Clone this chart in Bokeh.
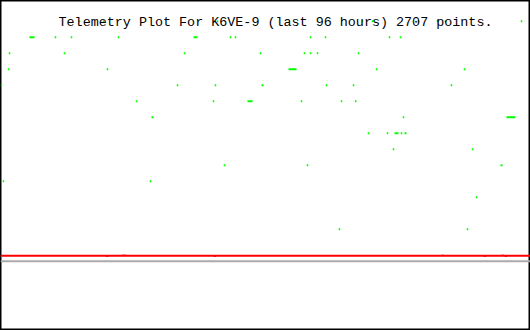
from bokeh.plotting import figure
from bokeh.models import Range1d, Label
from bokeh.embed import file_html
from bokeh.resources import INLINE

# ---- data (x: hours within the 96-hour window, y: telemetry value) ----
title_text = "Telemetry Plot For K6VE-9 (last 96 hours) 2707 points."

# single green samples
green_hours = [
    14.31, 18.66, 39.31, 65.57, 67.38, 75.71, 79.16, 80.60, 94.37,
    9.96, 12.86, 21.37, 41.66, 42.57, 56.15, 58.87, 70.46, 72.45,
    1.63, 11.59, 33.33, 47.09, 55.06, 56.15, 57.42, 64.85,
    1.45, 19.38, 68.11, 84.05,
    0.18, 32.06, 38.94, 59.05, 63.94, 81.69,
    24.63, 38.58, 54.52, 61.77,
    73.00,
    66.66, 70.10, 72.63,
    71.18, 85.49,
    40.57, 55.61,
    0.54, 27.17,
    86.22,
    61.40, 84.59,
]
green_values = [
    150, 150, 150, 150, 150, 150, 150, 150, 150,
    140, 140, 140, 140, 140, 140, 140, 140, 140,
    130, 130, 130, 130, 130, 130, 130, 130,
    120, 120, 120, 120,
    110, 110, 110, 110, 110, 110,
    100, 100, 100, 100,
    90,
    80, 80, 80,
    70, 70,
    60, 60,
    50, 50,
    40,
    20, 20,
]

# runs of consecutive green samples (start hour, end hour, value)
run_start = [5.25, 34.96, 52.17, 47.28, 44.74, 64.21, 27.35, 91.65, 71.37, 73.18, 90.57]
run_end   = [6.16, 35.68, 53.62, 47.64, 45.65, 64.48, 27.71, 93.28, 72.09, 73.54, 90.93]
run_value = [140, 140, 120, 110, 100, 100, 90, 90, 80, 80, 60]

# red trace
red_hours = [0, 19.28, 19.33, 19.38, 22.17, 22.22, 22.27, 22.54, 22.59, 22.64,
             38.77, 38.82, 38.87, 80.06, 80.11, 80.16, 87.67, 87.72, 87.77,
             90.93, 90.98, 91.03, 91.47, 91.52, 91.57, 96]
red_values = [3.4, 3.4, 2.8, 3.4, 3.4, 4.0, 3.4, 3.4, 4.0, 3.4,
              3.4, 2.8, 3.4, 3.4, 4.0, 3.4, 3.4, 2.8, 3.4,
              3.4, 4.0, 3.4, 3.4, 2.8, 3.4, 3.4]

# gray baseline
gray_hours = [0, 96]
gray_values = [0, 0]

# ---- figure ----
p = figure(width=530, height=330, output_backend="svg", toolbar_location=None,
           x_range=Range1d(0, 96), y_range=Range1d(-43.3, 162.9),
           min_border=0, min_border_left=0, min_border_right=0,
           min_border_top=0, min_border_bottom=0)
p.axis.visible = False
p.grid.visible = False
p.background_fill_color = "white"
p.border_fill_color = "white"
p.outline_line_color = "black"
p.outline_line_width = 2

p.rect(x=green_hours, y=green_values, width=1.5, height=2,
       width_units="screen", height_units="screen",
       fill_color="#00ff00", line_color=None)
p.segment(x0=run_start, y0=run_value, x1=run_end, y1=run_value,
          line_color="#00ff00", line_width=2, line_cap="butt")

p.line(gray_hours, gray_values, line_color="#aaaaaa", line_width=2)
p.line(red_hours, red_values, line_color="#ff0000", line_width=2)

p.add_layout(Label(x=275, y=308, x_units="screen", y_units="screen",
                   text=title_text, text_align="center",
                   text_baseline="alphabetic", text_font="Liberation Mono",
                   text_font_size="13.4px", text_color="black"))

open("out.html", "w").write(file_html(p, INLINE))
